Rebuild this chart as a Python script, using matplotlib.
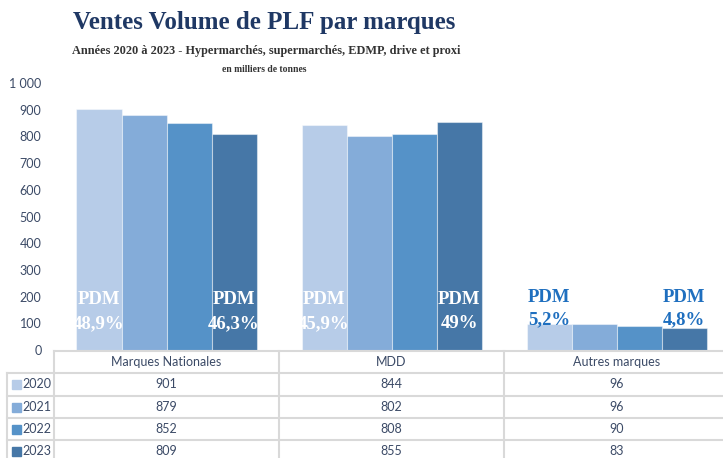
import numpy as np
import matplotlib
matplotlib.use("Agg")
import matplotlib.pyplot as plt
from matplotlib.lines import Line2D

# Data (milliers de tonnes)
categories = ["Marques Nationales", "MDD", "Autres marques"]
years = ["2020", "2021", "2022", "2023"]
v2020 = [901, 844, 96]
v2021 = [879, 802, 96]
v2022 = [852, 808, 90]
v2023 = [809, 855, 83]
pdm_first = ["48,9%", "45,9%", "5,2%"]
pdm_last = ["46,3%", "49%", "4,8%"]
yticks = [0, 100, 200, 300, 400, 500, 600, 700, 800, 900, 1000]
ytick_labels = ["0", "100", "200", "300", "400", "500", "600", "700", "800", "900", "1 000"]

colors = ["#b7cce8", "#84acd9", "#5592c8", "#4677a7"]
text_col = "#3b4a66"
grid_col = "#d9d9d9"

W, H = 723, 458
fig = plt.figure(figsize=(W / 100, H / 100), dpi=100)

def fx(px):
    return px / W

def fy(py):
    return 1 - py / H

# axes: x from 54 px (3 columns of 225 px), y=0 at 350 px, 1000 at 83 px
ax_left, ax_right = 54, W
ax = fig.add_axes([fx(ax_left), fy(350), fx(ax_right - ax_left), fy(83) - fy(350)])
ax.set_xlim(-0.5, -0.5 + (ax_right - ax_left) / 225)
ax.set_ylim(0, 1000)

series = [v2020, v2021, v2022, v2023]
x = np.arange(len(categories))
bw = 0.2
for i, vals in enumerate(series):
    ax.bar(x + (i - 1.5) * bw, vals, bw, color=colors[i],
           edgecolor=(1, 1, 1, 0.45), linewidth=0.8)

# PDM labels on first and last bar of each group
for j in range(len(categories)):
    col = "white" if j < 2 else "#1f6fbf"
    if j < 2:
        y_top, y_bot = 188, 100
    else:
        y_top, y_bot = 198, 112
    for k, lab in [(0, pdm_first[j]), (3, pdm_last[j])]:
        xc = x[j] + (k - 1.5) * bw
        ax.text(xc, y_top, "PDM", ha="center", va="center", color=col,
                fontsize=13.5, fontweight="bold", family="Liberation Serif")
        ax.text(xc, y_bot, lab, ha="center", va="center", color=col,
                fontsize=13.5, fontweight="bold", family="Liberation Serif")

ax.set_yticks(yticks)
ax.set_yticklabels(ytick_labels)
ax.tick_params(axis="y", length=0, pad=9, labelsize=9, labelcolor=text_col)
ax.set_xticks([])
for s in ax.spines.values():
    s.set_visible(False)
for lab in ax.get_yticklabels():
    lab.set_family("Lato")

# table under the chart
row_lines = [351, 373, 396, 418, 440, 462]
col_px = [54 + 225 * j for j in range(len(categories) + 1)]
leg_left = 7

def hline(py, x0):
    fig.add_artist(Line2D([fx(x0), 1], [fy(py), fy(py)], color=grid_col, lw=1.5))

def vline(px, y0):
    fig.add_artist(Line2D([fx(px), fx(px)], [fy(y0), 0], color=grid_col, lw=1.5))

hline(row_lines[0], col_px[0])
for py in row_lines[1:5]:
    hline(py, leg_left)
vline(leg_left, row_lines[1])
for px in col_px[:3]:
    vline(px, row_lines[0])

for j, cat in enumerate(categories):
    xc = (col_px[j] + col_px[j + 1]) / 2
    fig.text(fx(xc), fy((row_lines[0] + row_lines[1]) / 2), cat, ha="center", va="center",
             fontsize=9, color=text_col, family="Lato")
    for i, vals in enumerate(series):
        yc = (row_lines[i + 1] + row_lines[i + 2]) / 2
        fig.text(fx(xc), fy(yc), str(vals[j]), ha="center", va="center",
                 fontsize=9, color=text_col, family="Lato")

for i, yr in enumerate(years):
    yc = (row_lines[i + 1] + row_lines[i + 2]) / 2
    fig.add_artist(plt.Rectangle((fx(12), fy(yc + 4.5)), fx(9), fy(yc - 4.5) - fy(yc + 4.5),
                                 color=colors[i]))
    fig.text(fx(51), fy(yc), yr, ha="right", va="center", fontsize=9,
             color=text_col, family="Lato")

# titles
fig.text(fx(264), fy(22), "Ventes Volume de PLF par marques", ha="center", va="center",
         fontsize=18, fontweight="bold", color="#1f3864", family="Liberation Serif")
fig.text(fx(266), fy(51), "Années 2020 à 2023 - Hypermarchés, supermarchés, EDMP, drive et proxi",
         ha="center", va="center", fontsize=8.8, fontweight="bold", color="#333333",
         family="Liberation Serif")
fig.text(fx(264), fy(69), "en milliers de tonnes", ha="center", va="center",
         fontsize=6.9, fontweight="bold", color="#333333", family="Liberation Serif")

fig.savefig("out.png", dpi=100)
